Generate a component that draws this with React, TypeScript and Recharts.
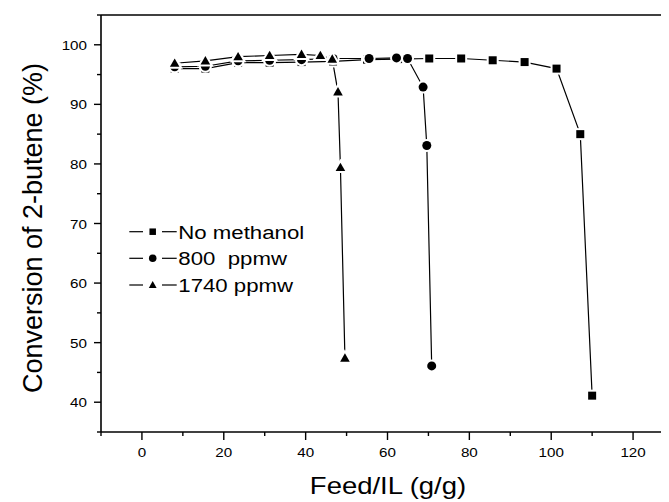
import { LineChart, Line, XAxis, YAxis, ReferenceLine, Legend } from 'recharts';

// Feed/IL (g/g) and conversion (%) for each run
const noMethX = [8, 15.5, 23.5, 31.2, 39, 46.7, 55, 62.6, 70.2, 78, 85.7, 93.5, 101.3, 107.1, 110];
const noMethY = [96.0, 96.0, 97.0, 97.0, 97.1, 97.2, 97.5, 97.6, 97.7, 97.7, 97.4, 97.1, 96.0, 85.0, 41.1];
const ppm800X = [8, 15.5, 23.5, 31.2, 39, 46.7, 55.5, 62.2, 64.9, 68.7, 69.6, 70.8];
const ppm800Y = [96.3, 96.4, 97.3, 97.4, 97.5, 97.7, 97.7, 97.8, 97.7, 92.9, 83.1, 46.1];
const ppm1740X = [8, 15.5, 23.5, 31.2, 39, 43.6, 46.5, 47.9, 48.5, 49.6];
const ppm1740Y = [96.9, 97.3, 98.0, 98.2, 98.4, 98.2, 97.6, 92.1, 79.4, 47.4];

const seriesNames = ['No methanol', '800  ppmw', '1740 ppmw'];

const xTicks = [-10, 0, 10, 20, 30, 40, 50, 60, 70, 80, 90, 100, 110, 120, 130];
const xLabels = [0, 20, 40, 60, 80, 100, 120];
const yTicks = [35, 40, 45, 50, 55, 60, 65, 70, 75, 80, 85, 90, 95, 100, 105];
const yLabels = [40, 50, 60, 70, 80, 90, 100];

const toRows = (xs: number[], ys: number[]) => xs.map((x, i) => ({ x, y: ys[i] }));

const FONT = '"Liberation Sans", Arial, sans-serif';
const STRETCH = 1.17;

type Shape = 'square' | 'circle' | 'triangle';

function marker(shape: Shape, cx: number, cy: number, s: number, key?: string) {
  const common = { fill: '#000', stroke: '#fff', strokeWidth: 4, paintOrder: 'stroke' as const };
  if (shape === 'square') {
    return <rect key={key} x={cx - s / 2} y={cy - s / 2} width={s} height={s} {...common} />;
  }
  if (shape === 'circle') {
    return <circle key={key} cx={cx} cy={cy} r={s / 2 + 0.5} {...common} />;
  }
  const h = s * 1.0;
  const w = s * 1.2;
  return (
    <path
      key={key}
      d={`M${cx},${cy - h * 0.6} L${cx + w / 2},${cy + h * 0.45} L${cx - w / 2},${cy + h * 0.45} Z`}
      {...common}
    />
  );
}

const makeDot = (shape: Shape) => (props: any) => {
  const { cx, cy, index } = props;
  if (cx == null || cy == null) return <g key={`${shape}-${index}`} />;
  return marker(shape, cx, cy, 8, `${shape}-${index}`);
};

function XTick(props: any) {
  const { x, y, payload } = props;
  const v = payload.value;
  const major = xLabels.includes(v);
  return (
    <g transform={`translate(${x},${y})`}>
      <line x1={0} y1={0} x2={0} y2={major ? 8 : 4} stroke="#000" strokeWidth={1.4} />
      {major && (
        <text transform={`translate(0,25) scale(${STRETCH},1)`} textAnchor="middle" fontSize={13} fontFamily={FONT} fill="#000">
          {v}
        </text>
      )}
    </g>
  );
}

function YTick(props: any) {
  const { x, y, payload } = props;
  const v = payload.value;
  const major = yLabels.includes(v);
  return (
    <g transform={`translate(${x},${y})`}>
      <line x1={0} y1={0} x2={major ? -7 : -4} y2={0} stroke="#000" strokeWidth={1.4} />
      {major && (
        <text transform={`translate(-14,5) scale(${STRETCH},1)`} textAnchor="end" fontSize={13} fontFamily={FONT} fill="#000">
          {v}
        </text>
      )}
    </g>
  );
}

const legendShapes: Shape[] = ['square', 'circle', 'triangle'];

function LegendBox() {
  const rowY = [223.7, 250.3, 277];
  return (
    <svg width={320} height={320} style={{ position: 'absolute', left: 0, top: 0, overflow: 'visible' }}>
      {seriesNames.map((name, i) => (
        <g key={name}>
          <line x1={121.3} x2={135} y1={rowY[i]} y2={rowY[i]} stroke="#000" strokeWidth={1.2} />
          <line x1={154} x2={168.7} y1={rowY[i]} y2={rowY[i]} stroke="#000" strokeWidth={1.2} />
          {marker(legendShapes[i], 144.7, rowY[i], 6.5)}
          <text
            transform={`translate(170.3,${rowY[i] + 6.8}) scale(${STRETCH},1)`}
            fontSize={19}
            fontFamily={FONT}
            fill="#000"
            style={{ whiteSpace: 'pre' }}
          >
            {name}
          </text>
        </g>
      ))}
    </svg>
  );
}

const XTitle = () => (
  <text transform={`translate(380,486) scale(${STRETCH},1)`} textAnchor="middle" fontSize={23.5} fontFamily={FONT} fill="#000">
    Feed/IL (g/g)
  </text>
);

const YTitle = () => (
  <text transform={`translate(25,220) scale(1.05,1) rotate(-90)`} x={0} y={9} textAnchor="middle" fontSize={27} fontFamily={FONT} fill="#000">
    Conversion of 2-butene (%)
  </text>
);

export default function App() {
  return (
    <div style={{ width: 661, height: 494, overflow: 'hidden', position: 'relative' }}>
      <LineChart width={680} height={494} margin={{ top: 7, right: 14, left: 0, bottom: 0 }}>
        <XAxis
          type="number"
          dataKey="x"
          domain={[-10, 130]}
          ticks={xTicks}
          interval={0}
          height={70}
          tickSize={0}
          tickMargin={0}
          tickLine={false}
          tick={<XTick />}
          axisLine={{ stroke: '#000', strokeWidth: 1.6 }}
          allowDataOverflow
          label={<XTitle />}
        />
        <YAxis
          type="number"
          dataKey="y"
          domain={[35, 105]}
          ticks={yTicks}
          interval={0}
          width={93}
          tickSize={0}
          tickMargin={0}
          tickLine={false}
          tick={<YTick />}
          axisLine={{ stroke: '#000', strokeWidth: 1.6 }}
          allowDataOverflow
          label={<YTitle />}
        />
        <ReferenceLine y={105} stroke="#000" strokeWidth={1.6} />
        <Legend
          layout="vertical"
          align="center"
          verticalAlign="middle"
          wrapperStyle={{ left: 0, top: 0, width: 320, height: 320 }}
          content={() => <LegendBox />}
        />
        <Line
          data={toRows(noMethX, noMethY)}
          dataKey="y"
          name={seriesNames[0]}
          stroke="#000"
          strokeWidth={1.2}
          dot={makeDot('square')}
          activeDot={false}
          isAnimationActive={false}
        />
        <Line
          data={toRows(ppm800X, ppm800Y)}
          dataKey="y"
          name={seriesNames[1]}
          stroke="#000"
          strokeWidth={1.2}
          dot={makeDot('circle')}
          activeDot={false}
          isAnimationActive={false}
        />
        <Line
          data={toRows(ppm1740X, ppm1740Y)}
          dataKey="y"
          name={seriesNames[2]}
          stroke="#000"
          strokeWidth={1.2}
          dot={makeDot('triangle')}
          activeDot={false}
          isAnimationActive={false}
        />
      </LineChart>
    </div>
  );
}
